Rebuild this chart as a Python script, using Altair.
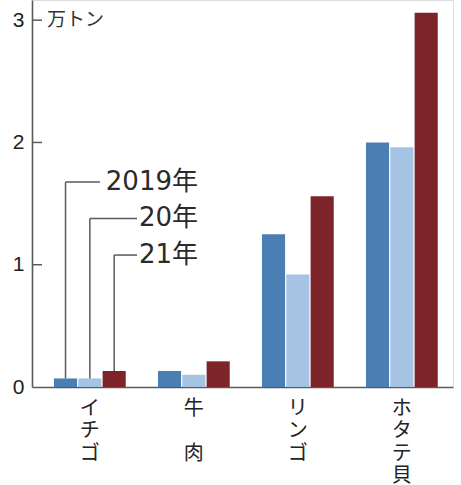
import altair as alt
import pandas as pd

# Export volumes (10,000 t) by product and year
categories = ["イチゴ", "牛肉", "リンゴ", "ホタテ貝"]
years = ["2019", "20", "21"]
year_labels = ["2019年", "20年", "21年"]
values_2019 = [0.07, 0.13, 1.25, 2.00]
values_2020 = [0.07, 0.10, 0.92, 1.96]
values_2021 = [0.13, 0.21, 1.56, 3.06]
y_ticks = [0, 1, 2, 3]
unit_label = ["万トン"]

# Vertical tick-label lines for each product (a zero-width space keeps the gap line)
x_label_lines = {
    "イチゴ": ["イ", "チ", "ゴ"],
    "牛肉": ["牛", "\u200b", "肉"],
    "リンゴ": ["リ", "ン", "ゴ"],
    "ホタテ貝": ["ホ", "タ", "テ", "貝"],
}

# Layout of the year call-outs (data-unit height of label, pixel end of leader)
callout_y = {"2019": 1.676, "20": 1.379, "21": 1.079}
callout_x_line = {"2019": 68, "20": 105, "21": 105}
CALLOUT_TEXT_RIGHT = 166

COLORS = ["#4b7eb3", "#a5c3e2", "#7c242a"]
FONT = "Noto Sans CJK JP"
LABEL_FONT = "DejaVu Sans, Noto Sans CJK JP"
GRAY = "#5a5a5a"

rows = []
for yr, vals in zip(years, [values_2019, values_2020, values_2021]):
    for c, v in zip(categories, vals):
        rows.append({"category": c, "year": yr, "value": v})
df = pd.DataFrame(rows)

ann = df[df["category"] == categories[0]].copy()
ann["label"] = year_labels
ann["ly"] = ann["year"].map(callout_y)

label_expr = ""
for c in categories:
    lines = ",".join(f"'{s}'" for s in x_label_lines[c])
    label_expr += f"datum.value == '{c}' ? [{lines}] : "
label_expr += "datum.value"

x_scale = alt.Scale(domain=categories, paddingInner=0.31, paddingOuter=0.179, align=0.59)
y_scale = alt.Scale(domain=[0, 3.165], nice=False, zero=True)
xo_scale = alt.Scale(domain=years, paddingInner=0.05)

x_enc = alt.X(
    "category:N",
    scale=x_scale,
    sort=categories,
    axis=alt.Axis(
        title=None,
        labelAngle=0,
        ticks=False,
        labelExpr=label_expr,
        labelFont=FONT,
        labelFontSize=20,
        labelLineHeight=22.5,
        labelColor="#222",
        labelPadding=11,
        labelBaseline="top",
        labelOverlap=False,
        domainColor=GRAY,
        domainWidth=1.6,
    ),
)
y_enc = alt.Y(
    "value:Q",
    scale=y_scale,
    axis=alt.Axis(
        title=None,
        values=y_ticks,
        grid=False,
        ticks=False,
        labelFont="Liberation Sans",
        labelFontSize=21,
        labelColor="#222",
        labelPadding=8,
        labelBaseline="middle",
        domainColor=GRAY,
        domainWidth=1.6,
        format="d",
    ),
)

bars = alt.Chart(df).mark_bar().encode(
    x=x_enc,
    xOffset=alt.XOffset("year:N", scale=xo_scale, sort=years),
    y=y_enc,
    color=alt.Color("year:N", scale=alt.Scale(domain=years, range=COLORS), legend=None),
)

ticks = alt.Chart(pd.DataFrame({"t": y_ticks[1:]})).mark_rule(
    color=GRAY, strokeWidth=1.5
).encode(
    y=alt.Y("t:Q", scale=y_scale),
    x=alt.value(0),
    x2=alt.value(10),
)

unit = alt.Chart(pd.DataFrame({"u": unit_label, "v": [y_ticks[-1]]})).mark_text(
    align="left", baseline="middle", font=FONT, fontSize=19, color="#333"
).encode(
    text="u:N",
    y=alt.Y("v:Q", scale=y_scale),
    x=alt.value(15),
)

vlines = alt.Chart(ann).mark_rule(color=GRAY, strokeWidth=1.5).encode(
    x=alt.X("category:N", scale=x_scale, sort=categories),
    xOffset=alt.XOffset("year:N", scale=xo_scale, sort=years),
    y=alt.Y("ly:Q", scale=y_scale),
    y2="value:Q",
)

# One horizontal leader per year, from the bar centre to its label
hlines = [
    alt.Chart(ann)
    .transform_filter(alt.datum.year == yr)
    .mark_rule(color=GRAY, strokeWidth=1.5)
    .encode(
        x=alt.X("category:N", scale=x_scale, sort=categories),
        xOffset=alt.XOffset("year:N", scale=xo_scale, sort=years),
        x2=alt.value(callout_x_line[yr]),
        y=alt.Y("ly:Q", scale=y_scale),
    )
    for yr in years
]

labels = alt.Chart(ann).mark_text(
    align="right", baseline="middle", font=LABEL_FONT, fontSize=26, color="#2a2a2a"
).encode(
    text="label:N",
    x=alt.value(CALLOUT_TEXT_RIGHT),
    y=alt.Y("ly:Q", scale=y_scale),
)

chart = (
    alt.layer(bars, ticks, unit, vlines, *hlines, labels)
    .properties(
        width=421,
        height=387,
        padding={"left": 32, "top": 0, "right": 8, "bottom": 98},
        autosize=alt.AutoSizeParams(type="none"),
    )
    .configure_view(stroke=None)
    .configure(background="white")
)

chart.save("out.html", embed_options={"renderer": "svg", "actions": False})
